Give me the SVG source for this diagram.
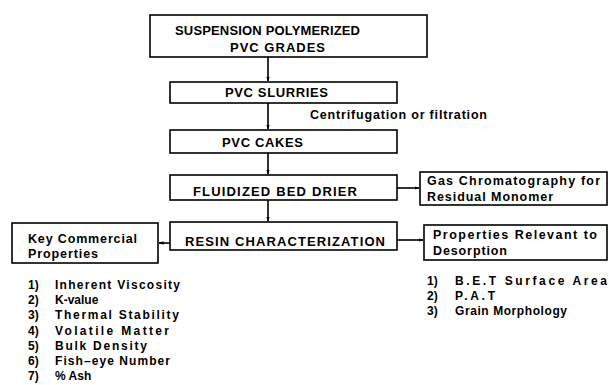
<svg xmlns="http://www.w3.org/2000/svg" width="609" height="385" viewBox="0 0 609 385">
<defs>
<style>
.box{fill:#fff;stroke:#000;stroke-width:1.6}
.cap{font-family:"Liberation Sans",Arial,sans-serif;font-weight:bold;font-size:13px;fill:#000}
.txt{font-family:"Liberation Sans",Arial,sans-serif;font-weight:bold;font-size:12.5px;fill:#000}
.li{font-family:"Liberation Sans",Arial,sans-serif;font-weight:bold;font-size:12px;fill:#000}
.con{stroke:#000;stroke-width:1.6;fill:none}
</style>
<marker id="ah" viewBox="0 0 10 10" refX="9" refY="5" markerWidth="5" markerHeight="5" orient="auto" markerUnits="userSpaceOnUse">
<path d="M0,1.5 L10,5 L0,8.5 z" fill="#000"/>
</marker>
</defs>
<rect width="609" height="385" fill="#fff"/>
<g id="connectors">
<line class="con" x1="268" y1="57" x2="268" y2="81" marker-end="url(#ah)"/>
<line class="con" x1="268" y1="103" x2="268" y2="129" marker-end="url(#ah)"/>
<line class="con" x1="268" y1="153" x2="268" y2="174" marker-end="url(#ah)"/>
<line class="con" x1="268" y1="200" x2="268" y2="221" marker-end="url(#ah)"/>
<line class="con" x1="397" y1="188" x2="419" y2="188" marker-end="url(#ah)"/>
<line class="con" x1="397" y1="240" x2="423" y2="240" marker-end="url(#ah)"/>
<line class="con" x1="170" y1="243" x2="159" y2="243" marker-end="url(#ah)"/>
<text class="txt" x="310" y="119" textLength="177" lengthAdjust="spacing">Centrifugation or filtration</text>
</g>
<g id="n1">
<rect class="box" x="150" y="15" width="277" height="42"/>
<text class="cap" x="175" y="35" textLength="185" lengthAdjust="spacing">SUSPENSION POLYMERIZED</text>
<text class="cap" x="230" y="52" textLength="95" lengthAdjust="spacing">PVC GRADES</text>
</g>
<g id="n2">
<rect class="box" x="170" y="82" width="227" height="21"/>
<text class="cap" x="225" y="97" textLength="103" lengthAdjust="spacing">PVC SLURRIES</text>
</g>
<g id="n3">
<rect class="box" x="170" y="130" width="227" height="23"/>
<text class="cap" x="222" y="147" textLength="81" lengthAdjust="spacing">PVC CAKES</text>
</g>
<g id="n4">
<rect class="box" x="170" y="175" width="227" height="25"/>
<text class="cap" x="193" y="196" textLength="164" lengthAdjust="spacing">FLUIDIZED BED DRIER</text>
</g>
<g id="n5">
<rect class="box" x="170" y="222" width="227" height="28"/>
<text class="cap" x="185" y="246" textLength="200" lengthAdjust="spacing">RESIN CHARACTERIZATION</text>
</g>
<g id="n6">
<rect class="box" x="420" y="172" width="187" height="33"/>
<text class="txt" x="427" y="185" textLength="173" lengthAdjust="spacing">Gas Chromatography for</text>
<text class="txt" x="427" y="201" textLength="126" lengthAdjust="spacing">Residual Monomer</text>
</g>
<g id="n7">
<rect class="box" x="424" y="225" width="183" height="35"/>
<text class="txt" x="433" y="239" textLength="164" lengthAdjust="spacing">Properties Relevant to</text>
<text class="txt" x="433" y="255" textLength="74" lengthAdjust="spacing">Desorption</text>
</g>
<g id="n8">
<rect class="box" x="12" y="223" width="146" height="40"/>
<text class="txt" x="28" y="243" textLength="109" lengthAdjust="spacing">Key Commercial</text>
<text class="txt" x="28" y="258" textLength="70" lengthAdjust="spacing">Properties</text>
</g>
<g id="list-left" class="li">
<text x="28" y="289">1)</text><text x="55" y="289" textLength="125" lengthAdjust="spacing">Inherent Viscosity</text>
<text x="28" y="304">2)</text><text x="55" y="304">K-value</text>
<text x="28" y="319">3)</text><text x="55" y="319" textLength="124" lengthAdjust="spacing">Thermal Stability</text>
<text x="28" y="335">4)</text><text x="55" y="335" textLength="114" lengthAdjust="spacing">Volatile Matter</text>
<text x="28" y="350">5)</text><text x="55" y="350" textLength="92" lengthAdjust="spacing">Bulk Density</text>
<text x="28" y="365">6)</text><text x="55" y="365" textLength="115" lengthAdjust="spacing">Fish–eye Number</text>
<text x="28" y="380">7)</text><text x="55" y="380">% Ash</text>
</g>
<g id="list-right" class="li">
<text x="427" y="285">1)</text><text x="455" y="285" textLength="152" lengthAdjust="spacing">B.E.T Surface Area</text>
<text x="427" y="300">2)</text><text x="455" y="300" textLength="40" lengthAdjust="spacing">P.A.T</text>
<text x="427" y="315">3)</text><text x="455" y="315" textLength="112" lengthAdjust="spacing">Grain Morphology</text>
</g>
</svg>
